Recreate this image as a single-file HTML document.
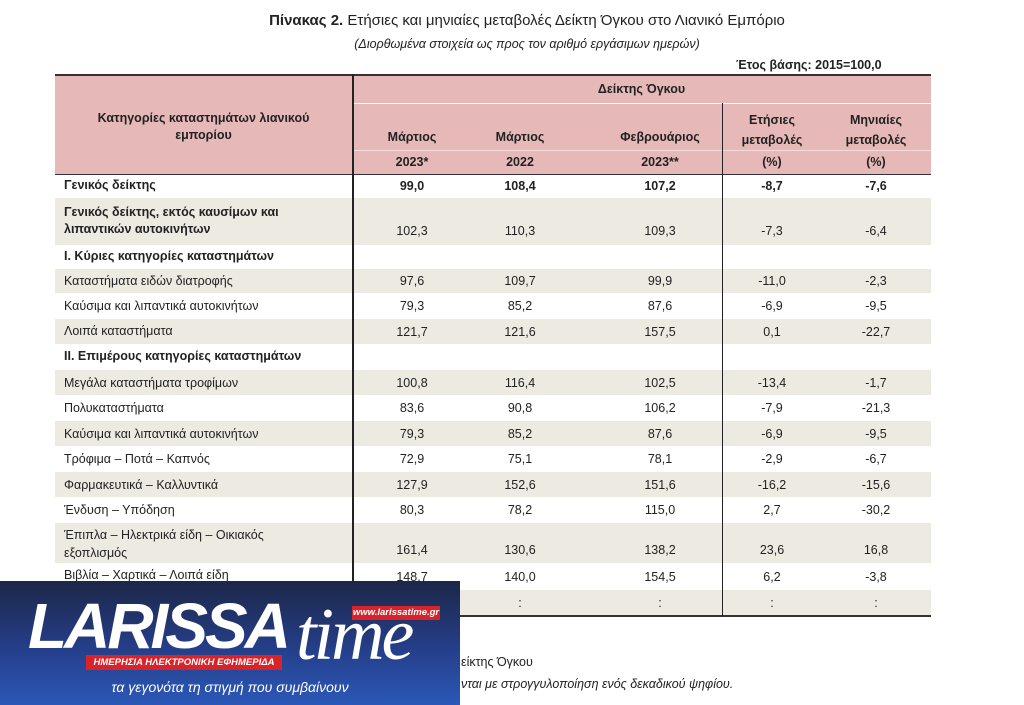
<!DOCTYPE html>
<html><head><meta charset="utf-8"><style>
body{margin:0;width:1024px;height:705px;background:#fff;position:relative;overflow:hidden;font-family:"Liberation Sans","DejaVu Sans",sans-serif;color:#222}
.a{position:absolute}
.r{position:absolute;left:55px;width:876px}
.bg{background:#edeae1}
.t{position:absolute;font-size:12.5px;white-space:nowrap}
.c{position:absolute;font-size:12.5px;text-align:center;width:110px;white-space:nowrap}
.b{font-weight:bold}
</style></head><body>
<div class="a" style="left:0;top:12px;width:1024px;text-align:center;font-size:15px;padding-left:30px;box-sizing:border-box"><b>Πίνακας 2.</b> Ετήσιες και μηνιαίες μεταβολές Δείκτη Όγκου στο Λιανικό Εμπόριο</div>
<div class="a" style="left:0;top:37px;width:1024px;text-align:center;font-size:12.5px;font-style:italic;padding-left:30px;box-sizing:border-box">(Διορθωμένα στοιχεία ως προς τον αριθμό εργάσιμων ημερών)</div>
<div class="a b" style="left:736px;top:58px;font-size:12.5px">Έτος βάσης: 2015=100,0</div>
<div class="a" style="left:55px;top:74px;width:876px;height:98px;background:#e6b9b8;border-top:2px solid #333;border-bottom:1px solid #333"></div>
<div class="a" style="left:352px;top:103px;width:579px;height:1px;background:#fff"></div>
<div class="a" style="left:352px;top:150px;width:579px;height:1px;background:#f3dcdc"></div>
<div class="a b" style="left:352px;top:82px;width:579px;text-align:center;font-size:12.5px">Δείκτης Όγκου</div>
<div class="a b" style="left:55px;top:110px;width:297px;text-align:center;font-size:12.5px;line-height:17px">Κατηγορίες καταστημάτων λιανικού<br>εμπορίου</div>
<div class="c b" style="left:357px;top:130px">Μάρτιος</div>
<div class="c b" style="left:465px;top:130px">Μάρτιος</div>
<div class="c b" style="left:605px;top:130px">Φεβρουάριος</div>
<div class="c b" style="left:717px;top:110px;line-height:20px">Ετήσιες<br>μεταβολές</div>
<div class="c b" style="left:821px;top:110px;line-height:20px">Μηνιαίες<br>μεταβολές</div>
<div class="c b" style="left:357px;top:155px">2023*</div>
<div class="c b" style="left:465px;top:155px">2022</div>
<div class="c b" style="left:605px;top:155px">2023**</div>
<div class="c b" style="left:717px;top:155px">(%)</div>
<div class="c b" style="left:821px;top:155px">(%)</div>
<div class="r bg" style="top:198px;height:47px"></div>
<div class="r bg" style="top:269px;height:24px"></div>
<div class="r bg" style="top:319px;height:25px"></div>
<div class="r bg" style="top:370px;height:25px"></div>
<div class="r bg" style="top:421px;height:25px"></div>
<div class="r bg" style="top:472px;height:25px"></div>
<div class="r bg" style="top:523px;height:40px"></div>
<div class="r bg" style="top:590px;height:25px"></div>
<div class="a" style="left:55px;top:615px;width:876px;height:2px;background:#333"></div>
<div class="a" style="left:352px;top:74px;width:2px;height:542px;background:#222"></div>
<div class="a" style="left:722px;top:103px;width:1px;height:513px;background:#222"></div>

<div class="t b" style="left:64px;top:178px">Γενικός δείκτης</div>
<div class="t b" style="left:64px;top:204px;line-height:17px">Γενικός δείκτης, εκτός καυσίμων και<br>λιπαντικών αυτοκινήτων</div>
<div class="t b" style="left:64px;top:249px">Ι. Κύριες κατηγορίες καταστημάτων</div>
<div class="t" style="left:64px;top:274px">Καταστήματα ειδών διατροφής</div>
<div class="t" style="left:64px;top:299px">Καύσιμα και λιπαντικά αυτοκινήτων</div>
<div class="t" style="left:64px;top:324px">Λοιπά καταστήματα</div>
<div class="t b" style="left:64px;top:349px">ΙΙ. Επιμέρους κατηγορίες καταστημάτων</div>
<div class="t" style="left:64px;top:376px">Μεγάλα καταστήματα τροφίμων</div>
<div class="t" style="left:64px;top:401px">Πολυκαταστήματα</div>
<div class="t" style="left:64px;top:427px">Καύσιμα και λιπαντικά αυτοκινήτων</div>
<div class="t" style="left:64px;top:452px">Τρόφιμα – Ποτά – Καπνός</div>
<div class="t" style="left:64px;top:478px">Φαρμακευτικά – Καλλυντικά</div>
<div class="t" style="left:64px;top:503px">Ένδυση – Υπόδηση</div>
<div class="t" style="left:64px;top:526px;line-height:18px">Έπιπλα – Ηλεκτρικά είδη – Οικιακός<br>εξοπλισμός</div>
<div class="t" style="left:64px;top:568px">Βιβλία – Χαρτικά – Λοιπά είδη</div>

<div id="vals"></div>
<script>
var d=[[187,"99,0","108,4","107,2","-8,7","-7,6",1],[232,"102,3","110,3","109,3","-7,3","-6,4"],[282,"97,6","109,7","99,9","-11,0","-2,3"],[307,"79,3","85,2","87,6","-6,9","-9,5"],[333,"121,7","121,6","157,5","0,1","-22,7"],[384,"100,8","116,4","102,5","-13,4","-1,7"],[409,"83,6","90,8","106,2","-7,9","-21,3"],[435,"79,3","85,2","87,6","-6,9","-9,5"],[460,"72,9","75,1","78,1","-2,9","-6,7"],[486,"127,9","152,6","151,6","-16,2","-15,6"],[511,"80,3","78,2","115,0","2,7","-30,2"],[551,"161,4","130,6","138,2","23,6","16,8"],[578,"148,7","140,0","154,5","6,2","-3,8"],[604,":",":",":",":",":"]];
var xs=[357,465,605,717,821],h="";
d.forEach(function(r){for(var i=0;i<5;i++)h+='<div class="c'+(r[6]?' b':'')+'" style="left:'+xs[i]+'px;top:'+(r[0]-8)+'px">'+r[i+1]+'</div>';});
document.getElementById("vals").innerHTML=h;
</script>
<div class="t" style="left:461px;top:655px;font-size:12.5px">είκτης Όγκου</div>
<div class="t" style="left:461px;top:677px;font-size:12.5px;font-style:italic">νται με στρογγυλοποίηση ενός δεκαδικού ψηφίου.</div>
<div class="a" style="left:0;top:581px;width:460px;height:124px;background:linear-gradient(#1c2748,#243c84 50%,#2b58b8)"></div>
<div class="a" style="left:28px;top:594px;font-size:64px;font-weight:bold;font-style:italic;color:#fff;letter-spacing:-3px;line-height:64px;font-family:'Liberation Sans',sans-serif">LARISSA</div>
<div class="a" style="left:296px;top:598px;font-size:74px;font-style:italic;color:#fff;line-height:74px;font-family:'Liberation Serif',serif;letter-spacing:-3px">time</div>
<div class="a" style="left:352px;top:606px;width:88px;height:14px;background:#d9232a;color:#fff;font-size:9.5px;font-style:italic;font-weight:bold;text-align:center;line-height:14px">www.larissatime.gr</div>
<div class="a" style="left:86px;top:655px;width:196px;height:15px;background:#d9232a;color:#fff;font-size:9.5px;font-style:italic;font-weight:bold;text-align:center;line-height:15px">ΗΜΕΡΗΣΙΑ ΗΛΕΚΤΡΟΝΙΚΗ ΕΦΗΜΕΡΙΔΑ</div>
<div class="a" style="left:0;top:679px;width:460px;text-align:center;color:#fff;font-size:14px;font-style:italic">τα γεγονότα τη στιγμή που συμβαίνουν</div>
</body></html>
